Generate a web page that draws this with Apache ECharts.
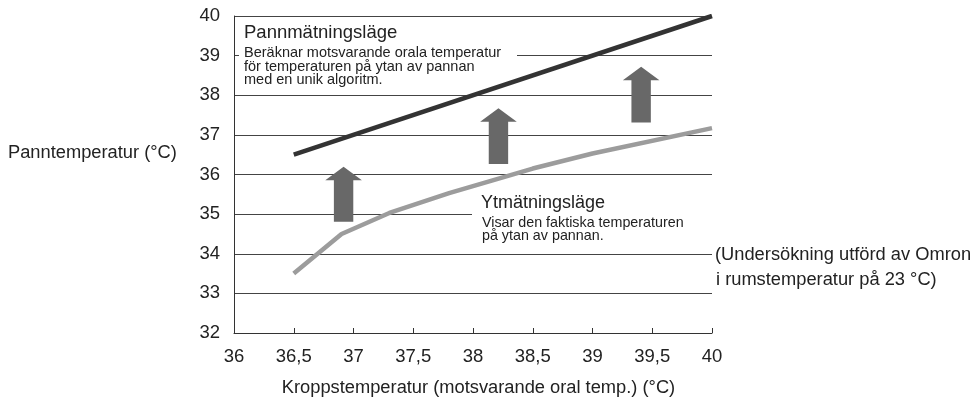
<!DOCTYPE html>
<html>
<head>
<meta charset="utf-8">
<script src="https://cdn.jsdelivr.net/npm/echarts@6/dist/echarts.min.js"></script>
<style>
  html, body { margin: 0; padding: 0; background: #fff; }
  #chart { width: 972px; height: 399px; }
</style>
</head>
<body>
<div id="chart"></div>
<script>
// Body temperature (equivalent oral) on x, pan temperature on y
const xTicks = [36, 36.5, 37, 37.5, 38, 38.5, 39, 39.5, 40];
const xTickLabels = ['36', '36,5', '37', '37,5', '38', '38,5', '39', '39,5', '40'];

// Pan mode: computed oral-equivalent temperature
const panX = [36.5, 40];
const panY = [36.5, 40];

// Surface mode: actual measured pan surface temperature
const surfaceX = [36.5, 36.9, 37.3, 37.8, 38.5, 39.0, 40.0];
const surfaceY = [33.5, 34.5, 35.03, 35.53, 36.15, 36.53, 37.17];

// Upward arrows between the two curves: centre x, base y, tip y
const arrowX = [36.917, 38.213, 39.407];
const arrowBase = [34.81, 36.265, 37.31];
const arrowTip = [36.197, 37.67, 38.72];

const FONT = '"Liberation Sans", Arial, sans-serif';
const INK = '#222';
const chart = echarts.init(document.getElementById('chart'), null, { renderer: 'canvas' });

function zip(xs, ys) { return xs.map((x, i) => [x, ys[i]]); }

function label(text, x, y, size, align) {
  return {
    type: 'text', x: x, y: y, z: 5,
    style: { text: text, fill: INK, font: size + 'px ' + FONT,
             textAlign: align || 'left', textVerticalAlign: 'middle' }
  };
}

const option = {
  animation: false,
  backgroundColor: '#fff',
  grid: { left: 234, right: 260, top: 16, bottom: 66 },
  xAxis: {
    type: 'value', min: 36, max: 40, interval: 0.5,
    axisLine: { show: true, lineStyle: { color: '#333', width: 1 } },
    axisTick: { show: true, inside: true, length: 5, lineStyle: { color: '#333' } },
    splitLine: { show: false },
    axisLabel: {
      color: INK, fontFamily: FONT, fontSize: 18.5, margin: 14,
      formatter: v => { const i = xTicks.findIndex(t => Math.abs(t - v) < 1e-6); return i >= 0 ? xTickLabels[i] : ''; }
    }
  },
  yAxis: {
    type: 'value', min: 32, max: 40, interval: 1,
    axisLine: { show: true, lineStyle: { color: '#333', width: 1 } },
    axisTick: { show: false },
    splitLine: { show: true, lineStyle: { color: '#444', width: 1 } },
    axisLabel: { color: INK, fontFamily: FONT, fontSize: 18.5, margin: 14 }
  },
  graphic: [
    // axis titles
    label('Panntemperatur (°C)', 8, 153, 18.3),
    label('Kroppstemperatur (motsvarande oral temp.) (°C)', 478.5, 388, 18.3, 'center'),
    // Pan-mode caption with white panel
    { type: 'rect', shape: { x: 239, y: 22, width: 278, height: 64 }, z: 1, style: { fill: '#fff' } },
    label('Pannmätningsläge', 244, 33, 18.5),
    label('Beräknar motsvarande orala temperatur', 244, 53, 14.5),
    label('för temperaturen på ytan av pannan', 244, 66.5, 14.5),
    label('med en unik algoritm.', 244, 80, 14.5),
    // Surface-mode caption with white panel
    { type: 'rect', shape: { x: 472, y: 190, width: 242, height: 55 }, z: 1, style: { fill: '#fff' } },
    label('Ytmätningsläge', 481, 203, 18),
    label('Visar den faktiska temperaturen', 482, 223.3, 14.3),
    label('på ytan av pannan.', 482, 236.5, 14.3),
    // Study note on the right
    label('(Undersökning utförd av Omron', 715, 255, 18.3),
    label('i rumstemperatur på 23 °C)', 716, 280, 18.3)
  ],
  series: [
    {
      type: 'line', data: zip(panX, panY), showSymbol: false, z: 3,
      lineStyle: { color: '#333', width: 4.5, cap: 'butt' }
    },
    {
      type: 'line', data: zip(surfaceX, surfaceY), showSymbol: false, z: 3,
      lineStyle: { color: '#9c9c9c', width: 4.5, join: 'round' }
    },
    {
      type: 'custom', z: 4,
      data: arrowX.map((x, i) => [x, arrowBase[i], arrowTip[i]]),
      renderItem: function (params, api) {
        const base = api.coord([api.value(0), api.value(1)]);
        const tip = api.coord([api.value(0), api.value(2)]);
        const cx = base[0];
        const headW = 18.3, shaftW = 9.7, headH = 13.5;
        const neck = tip[1] + headH;
        return {
          type: 'polygon',
          shape: { points: [
            [cx, tip[1]], [cx + headW, neck], [cx + shaftW, neck], [cx + shaftW, base[1]],
            [cx - shaftW, base[1]], [cx - shaftW, neck], [cx - headW, neck]
          ] },
          style: { fill: '#686868' }
        };
      }
    }
  ]
};
chart.setOption(option);
</script>
</body>
</html>
